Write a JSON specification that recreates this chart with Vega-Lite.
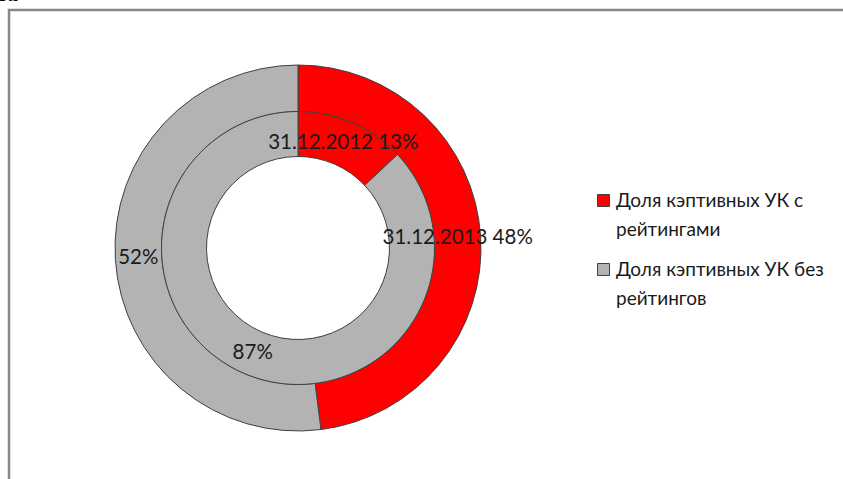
{
  "$schema": "https://vega.github.io/schema/vega-lite/v6.json",
  "width": 840,
  "height": 475,
  "autosize": {"type": "none"},
  "padding": {"left": 9, "top": 10, "right": 0, "bottom": 0},
  "view": {"stroke": "#888888", "strokeWidth": 2.5},
  "config": {
    "view": {"stroke": "#888888", "strokeWidth": 2.5},
    "font": "Lato"
  },
  "title": {"text": "за", "font": "Liberation Serif", "fontStyle": "italic", "fontWeight": "bold", "fontSize": 22, "anchor": "start", "dx": -10, "offset": 4, "color": "#000000"},
  "data": {
    "values": [
      {"ring": "31.12.2012", "cat": "Доля кэптивных УК с рейтингами", "order": 1, "value": 13, "label": "31.12.2012  13%"},
      {"ring": "31.12.2012", "cat": "Доля кэптивных УК без рейтингов", "order": 2, "value": 87, "label": "87%"},
      {"ring": "31.12.2013", "cat": "Доля кэптивных УК с рейтингами", "order": 1, "value": 48, "label": "31.12.2013  48%"},
      {"ring": "31.12.2013", "cat": "Доля кэптивных УК без рейтингов", "order": 2, "value": 52, "label": "52%"}
    ]
  },
  "layer": [
    {
      "transform": [{"filter": "datum.ring == '31.12.2013'"}],
      "mark": {"type": "arc", "radius": 183, "radius2": 136.5, "stroke": "#404040", "strokeWidth": 1, "xOffset": -131, "yOffset": 0.5},
      "encoding": {
        "theta": {"field": "value", "type": "quantitative", "stack": true},
        "order": {"field": "order", "type": "quantitative"},
        "color": {
          "field": "cat", "type": "nominal",
          "scale": {"domain": ["Доля кэптивных УК с рейтингами", "Доля кэптивных УК без рейтингов"], "range": ["#FF0000", "#B3B3B3"]},
          "legend": {
            "title": null,
            "orient": "none",
            "legendX": 585,
            "legendY": 181,
            "symbolType": "square",
            "symbolSize": 144,
            "symbolStrokeColor": "#404040",
            "symbolStrokeWidth": 1,
            "labelFontSize": 19,
            "labelColor": "#1a1a1a",
            "labelLimit": 0,
            "labelOffset": 3,
            "rowPadding": 20,
            "labelExpr": "datum.label == 'Доля кэптивных УК с рейтингами' ? ['Доля кэптивных УК с', 'рейтингами'] : ['Доля кэптивных УК без', 'рейтингов']",
            "encode": {"labels": {"update": {"lineHeight": {"value": 29}}}}
          }
        }
      }
    },
    {
      "transform": [{"filter": "datum.ring == '31.12.2012'"}],
      "mark": {"type": "arc", "radius": 136.5, "radius2": 91.5, "stroke": "#404040", "strokeWidth": 1, "xOffset": -131, "yOffset": 0.5},
      "encoding": {
        "theta": {"field": "value", "type": "quantitative", "stack": true},
        "order": {"field": "order", "type": "quantitative"},
        "color": {"field": "cat", "type": "nominal"}
      }
    },
    {
      "transform": [{"filter": "datum.ring == '31.12.2013'"}],
      "mark": {"type": "text", "radius": 160, "fontSize": 20.5, "color": "#1a1a1a", "xOffset": -131, "yOffset": 0.5},
      "encoding": {
        "theta": {"field": "value", "type": "quantitative", "stack": true},
        "order": {"field": "order", "type": "quantitative"},
        "text": {"field": "label"}
      }
    },
    {
      "transform": [{"filter": "datum.ring == '31.12.2012'"}],
      "mark": {"type": "text", "radius": 114, "fontSize": 20.5, "color": "#1a1a1a", "xOffset": -131, "yOffset": 0.5},
      "encoding": {
        "theta": {"field": "value", "type": "quantitative", "stack": true},
        "order": {"field": "order", "type": "quantitative"},
        "text": {"field": "label"}
      }
    }
  ]
}
